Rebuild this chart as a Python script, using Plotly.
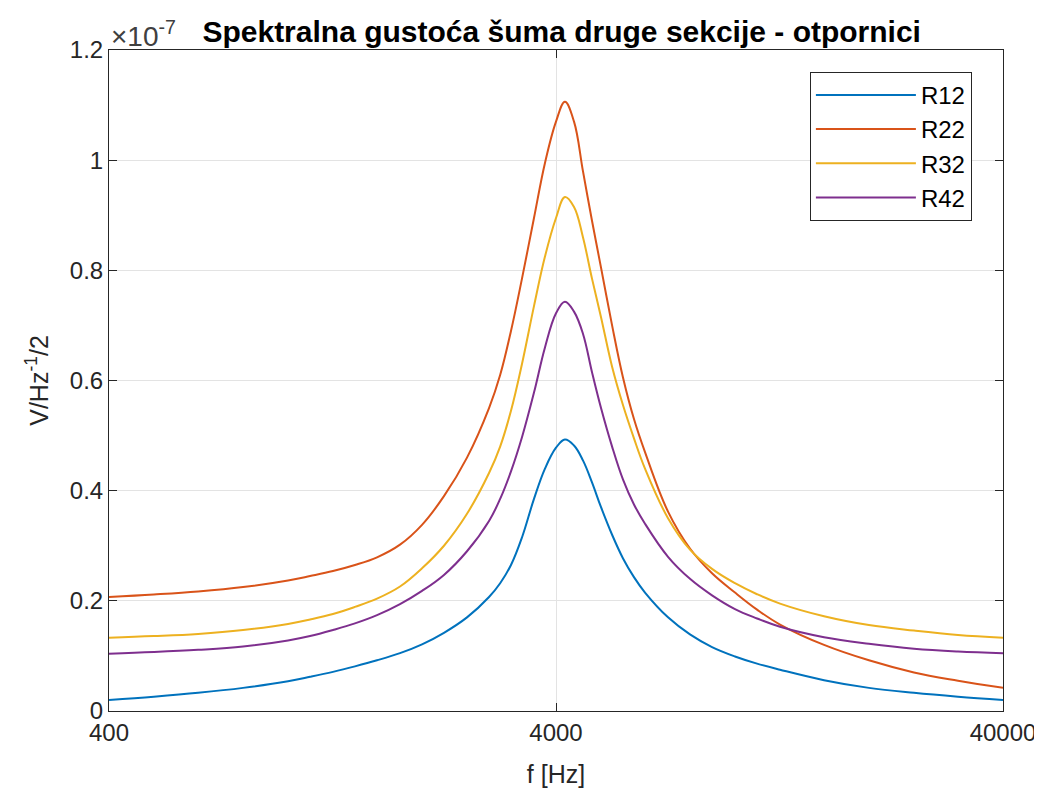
import plotly.graph_objects as go

# frequency points [Hz]
freq = [400, 504, 633, 798, 1006, 1127, 1268, 1420, 1591, 1791, 2006, 2246,
        2529, 2833, 3000, 3172, 3357, 3571, 3779, 4000, 4188, 4389, 4596,
        4815, 5044, 5340, 5650, 5977, 6327, 7123, 7976, 8935, 10057, 11268,
        12682, 15913, 20050, 25287, 31721, 40000]

# noise spectral density, in units of 1e-7 V/Hz^-1/2
r12 = [0.020, 0.026, 0.033, 0.042, 0.054, 0.062, 0.071, 0.081, 0.092, 0.105,
       0.121, 0.142, 0.170, 0.207, 0.232, 0.265, 0.315, 0.385, 0.440, 0.478,
       0.493, 0.482, 0.455, 0.415, 0.370, 0.320, 0.277, 0.243, 0.215, 0.170,
       0.139, 0.116, 0.099, 0.086, 0.075, 0.056, 0.042, 0.033, 0.026, 0.020]
r22 = [0.207, 0.2115, 0.217, 0.225, 0.237, 0.245, 0.254, 0.265, 0.279, 0.302,
       0.338, 0.390, 0.460, 0.550, 0.610, 0.690, 0.785, 0.895, 0.995, 1.070,
       1.106, 1.070, 0.980, 0.890, 0.805, 0.700, 0.605, 0.530, 0.470, 0.362,
       0.295, 0.250, 0.215, 0.184, 0.157, 0.120, 0.092, 0.070, 0.055, 0.042]
r32 = [0.133, 0.136, 0.140, 0.147, 0.158, 0.166, 0.176, 0.189, 0.204, 0.226,
       0.259, 0.300, 0.358, 0.432, 0.480, 0.545, 0.630, 0.735, 0.825, 0.895,
       0.933, 0.915, 0.860, 0.785, 0.715, 0.625, 0.555, 0.495, 0.440, 0.350,
       0.293, 0.258, 0.232, 0.212, 0.195, 0.172, 0.156, 0.146, 0.138, 0.133]
r42 = [0.104, 0.107, 0.111, 0.117, 0.128, 0.136, 0.147, 0.159, 0.174, 0.194,
       0.218, 0.247, 0.290, 0.345, 0.385, 0.435, 0.497, 0.578, 0.660, 0.722,
       0.743, 0.725, 0.685, 0.615, 0.550, 0.480, 0.420, 0.375, 0.340, 0.280,
       0.240, 0.210, 0.185, 0.168, 0.153, 0.134, 0.122, 0.113, 0.108, 0.105]

names = ['R12', 'R22', 'R32', 'R42']
colors = ['#0072BD', '#D95319', '#EDB120', '#7E2F8E']

x_ticks = [400, 4000, 40000]
y_ticks = [0, 0.2, 0.4, 0.6, 0.8, 1.0, 1.2]

FONT = 'Liberation Sans, Arial, sans-serif'
AXIS_COLOR = '#262626'

fig = go.Figure()
for name, vals, col in zip(names, [r12, r22, r32, r42], colors):
    fig.add_trace(go.Scatter(x=freq, y=vals, mode='lines', name=name,
                             legendgroup=name,
                             line=dict(color=col, width=2, shape='spline',
                                       smoothing=1.1)))

axis_common = dict(showline=True, linecolor=AXIS_COLOR, linewidth=1,
                   mirror='ticks', ticks='inside', ticklen=8,
                   tickcolor=AXIS_COLOR, showgrid=True, gridcolor='#e3e3e3',
                   gridwidth=1, zeroline=False, automargin=False,
                   tickfont=dict(family=FONT, size=24, color=AXIS_COLOR))

fig.update_xaxes(type='log', range=[2.60206, 4.60206], tickvals=x_ticks,
                 ticktext=[str(v) for v in x_ticks],
                 title=dict(text='f [Hz]', font=dict(family=FONT, size=25, color=AXIS_COLOR),
                            standoff=20),
                 **axis_common)
fig.update_yaxes(range=[0, 1.2], tickvals=y_ticks,
                 ticktext=['0', '0.2', '0.4', '0.6', '0.8', '1', '1.2'],
                 title=dict(text='V/Hz<sup>-1</sup>/2', font=dict(family=FONT, size=25, color=AXIS_COLOR),
                            standoff=14),
                 **axis_common)

# page has an 8px body margin, so the figure is 8px smaller than the window
fig.update_layout(
    width=1034, height=788,
    margin=dict(l=101, r=39, t=42, b=85, autoexpand=False),
    plot_bgcolor='white', paper_bgcolor='white',
    title=dict(text='<b>Spektralna gustoća šuma druge sekcije - otpornici</b>',
               x=0.5355, xanchor='center', y=0.97, yanchor='middle',
               font=dict(family=FONT, size=30, color='black')),
    legend=dict(x=0.784, y=0.967, xanchor='left', yanchor='top',
                bordercolor=AXIS_COLOR, borderwidth=1, bgcolor='white',
                font=dict(family=FONT, size=24, color='black'),
                itemwidth=100, tracegroupgap=0),
    showlegend=True,
)

fig.add_annotation(text='×10<sup>-7</sup>', xref='paper', yref='paper',
                   x=0, y=1, xanchor='left', yanchor='bottom', yshift=-4,
                   showarrow=False,
                   font=dict(family=FONT, size=28, color='#404040'))

fig.write_html('out.html')
